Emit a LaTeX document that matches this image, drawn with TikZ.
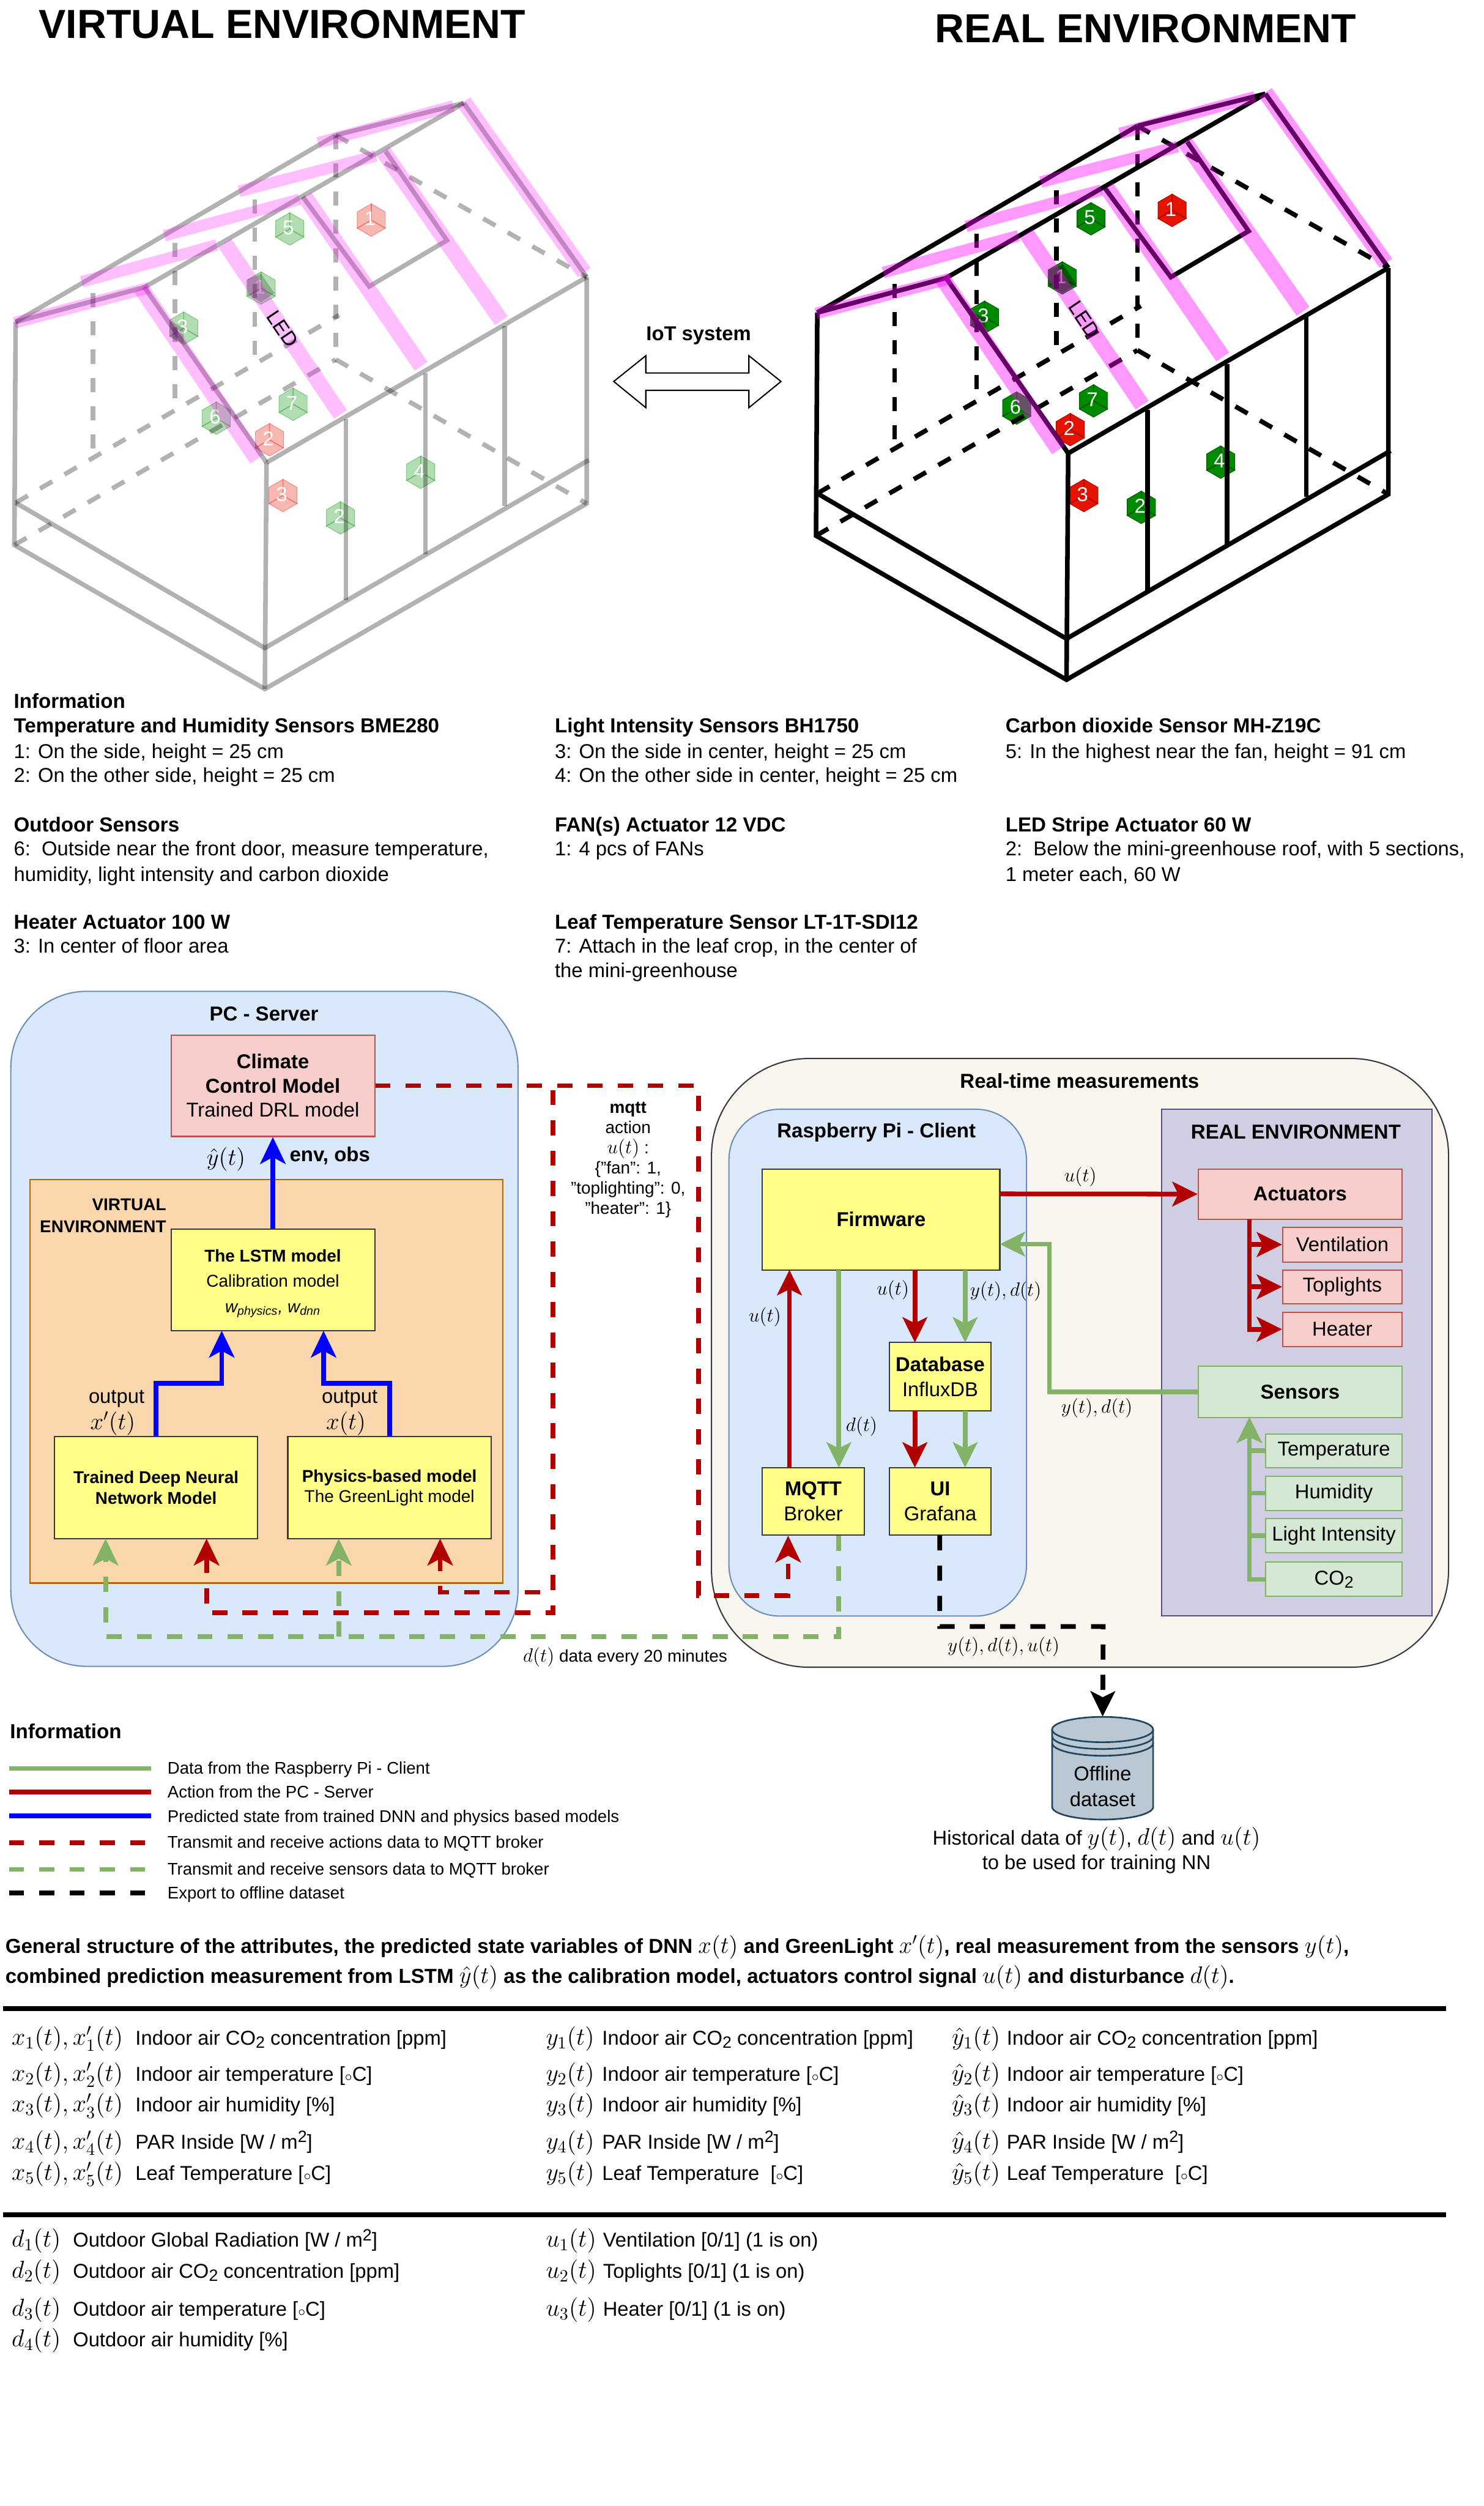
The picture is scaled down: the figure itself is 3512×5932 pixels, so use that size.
\documentclass[tikz,border=0pt]{standalone}
\usepackage{fix-cm}
\usepackage{amsmath}
\usepackage[no-math]{fontspec}
\setmainfont{Liberation Sans}
\usepackage{xcolor}
\usetikzlibrary{arrows.meta,shapes.geometric}

\definecolor{bluefill}{HTML}{DAE8FC}
\definecolor{blueline}{HTML}{6C8EBF}
\definecolor{redfill}{HTML}{F8CECC}
\definecolor{redline}{HTML}{B85450}
\definecolor{greenfill}{HTML}{D5E8D4}
\definecolor{greenline}{HTML}{82B366}
\definecolor{orangefill}{HTML}{FAD7AC}
\definecolor{orangeline}{HTML}{B46504}
\definecolor{yellowfill}{HTML}{FFFF88}
\definecolor{darkline}{HTML}{36393D}
\definecolor{creamfill}{HTML}{F9F7ED}
\definecolor{purplefill}{HTML}{D0CEE2}
\definecolor{purpleline}{HTML}{56517E}
\definecolor{dbfill}{HTML}{BAC8D3}
\definecolor{dbline}{HTML}{23445D}
\definecolor{actionred}{HTML}{B20000}
\definecolor{cubegreen}{HTML}{008A00}
\definecolor{cubegreenline}{HTML}{005700}
\definecolor{cubered}{HTML}{E51400}
\definecolor{ledpink}{RGB}{255,0,255}
\definecolor{pureblue}{RGB}{0,0,255}

\newcommand{\mth}[1]{{\fontsize{16.5}{18}\selectfont$#1$}}
\newcommand{\mtm}[1]{{\fontsize{16}{18}\selectfont$#1$}}
\newcommand{\mts}[1]{{\fontsize{13}{15}\selectfont$#1$}}
\newcommand{\degC}{[$\scriptstyle\circ$C]}
\newcommand{\subtwo}{\raisebox{-0.32ex}{\fontsize{11}{12}\selectfont 2}}
\newcommand{\suptwo}{\raisebox{0.62ex}{\fontsize{11}{12}\selectfont 2}}

\newcommand{\sensorcube}[5]{
  \node[#5] (#1) at (#2,#3) {};
  \draw[#5line] (#1.center) -- (#1.corner 1) (#1.center) -- (#1.corner 3) (#1.center) -- (#1.corner 5);
  \node[cubetext] (#1t) at (#2-3,#3-3) {#4};
}

\newcommand{\greenhouse}[3]{
  \fill[black,opacity=#3] (402,759) -- (435,777) -- (435,813) -- (402,795) -- cycle;
  \fill[black,opacity=#3] (586,661) -- (618,648) -- (650,694) -- (618,715) -- (586,697) -- cycle;
  \draw[#1] (37,762) -- (795,320);
  \draw[#1] (342,680) -- (1098,244);
  \draw[#1] (631,1095) -- (1389,656);
  \draw[#1] (37,762) -- (342,680);
  \draw[#1] (342,680) -- (631,1095);
  \draw[#1] (795,320) -- (1098,244);
  \draw[#1] (1098,244) -- (1389,656);
  \draw[#1] (37,762) -- (34,1290) -- (627,1631) -- (1389,1192) -- (1389,656);
  \draw[#1] (631,1095) -- (627,1631);
  \draw[#1] (37,1190) -- (627,1534) -- (1394,1089);
  \draw[#1] (819,992) -- (819,1420);
  \draw[#1] (1007,883) -- (1007,1312);
  \draw[#1] (1195,772) -- (1195,1198);
  \draw[#1] (717,466) -- (874,678) -- (1058,569) -- (913,358);
  \draw[#1,dash pattern=on 9.5pt off 9.5pt] (37,1190) -- (803,746);
  \draw[#1,dash pattern=on 9.5pt off 9.5pt] (34,1290) -- (795,851);
  \draw[#1,dash pattern=on 9.5pt off 9.5pt] (795,851) -- (1389,1192);
  \draw[#1,dash pattern=on 9.5pt off 9.5pt] (795,320) -- (795,851);
  \draw[#1,dash pattern=on 9.5pt off 9.5pt] (795,320) -- (1389,656);
  \draw[#1,dash pattern=on 9.5pt off 9.5pt] (220,694) -- (220,1084);
  \draw[#1,dash pattern=on 9.5pt off 9.5pt] (414,575) -- (414,970);
  \draw[#1,dash pattern=on 9.5pt off 9.5pt] (603,472) -- (603,862);
  \draw[#2,line width=10.5pt] (333,681) -- (608,1087);
  \draw[#2,line width=10.5pt] (532,575) -- (806,981);
  \draw[#2,line width=10.5pt] (722,466) -- (997,867);
  \draw[#2,line width=10.5pt] (907,358) -- (1187,759);
  \draw[#2,line width=10.5pt] (1098,241) -- (1383,645);
  \draw[#2,line width=7.7pt] (34,764) -- (353,681);
  \draw[#2,line width=7.7pt] (193,667) -- (513,580);
  \draw[#2,line width=7.7pt] (389,558) -- (709,472);
  \draw[#2,line width=7.7pt] (566,453) -- (890,369);
  \draw[#2,line width=7.7pt] (753,338) -- (1073,251);
}

\begin{document}
\begin{tikzpicture}[
  x=0.01cm, y=-0.01cm,
  lfont/.style={font=\fontsize{13.5}{16.4}\selectfont},
  mfont/.style={font=\fontsize{11.5}{14}\selectfont},
  lbl/.style={anchor=base west,inner sep=0pt,lfont},
  lblb/.style={anchor=base west,inner sep=0pt,font=\fontsize{13.65}{16.4}\selectfont\bfseries},
  lgd/.style={anchor=base west,inner sep=0pt,font=\fontsize{11.35}{14}\selectfont},
  ctr/.style={inner sep=0pt,align=center,lfont},
  ctrb/.style={inner sep=0pt,align=center,font=\fontsize{13.6}{16.4}\selectfont\bfseries},
  bigtitle/.style={inner sep=0pt,font=\fontsize{27.3}{30}\selectfont\bfseries},
  box/.style={draw,line width=0.85pt,inner sep=0pt,align=center,lfont},
  ybox/.style={box,fill=yellowfill,draw=darkline},
  rbox/.style={box,fill=redfill,draw=redline},
  gbox/.style={box,fill=greenfill,draw=greenline},
  cubetext/.style={inner sep=0pt,text=white,font=\fontsize{13.5}{15}\selectfont},
  cuberv/.style={regular polygon,regular polygon sides=6,shape border rotate=30,minimum size=0.77cm,inner sep=0pt},
  vgreen/.style={cuberv,fill=cubegreen,draw=cubegreen,fill opacity=0.3,draw opacity=0.4},
  vred/.style={cuberv,fill=cubered,draw=cubered,fill opacity=0.3,draw opacity=0.4},
  rgreen/.style={cuberv,fill=cubegreen,draw=cubegreenline},
  rred/.style={cuberv,fill=cubered,draw=actionred},
  vgreenline/.style={cubegreen,opacity=0.4,line width=0.7pt},
  vredline/.style={cubered,opacity=0.4,line width=0.7pt},
  rgreenline/.style={cubegreenline,line width=0.7pt},
  rredline/.style={actionred,line width=0.7pt},
  vframe/.style={black,opacity=0.3,line width=3.1pt},
  rframe/.style={black,line width=3.1pt},
  vstrip/.style={ledpink,opacity=0.25},
  rstrip/.style={ledpink,opacity=0.4},
  bigtip/.style={-{Stealth[length=18pt,width=17pt,inset=4.5pt]}},
  tip/.style={-{Stealth[length=17pt,width=16.5pt,inset=4pt]}},
  bluearrow/.style={bigtip,pureblue,line width=3.2pt},
  redarrow/.style={tip,actionred,line width=3.2pt},
  greenarrow/.style={tip,greenline,line width=3.2pt},
  reddash/.style={bigtip,actionred,line width=3.2pt,dash pattern=on 10.2pt off 10.2pt},
  greendash/.style={bigtip,greenline,line width=3.2pt,dash pattern=on 10.2pt off 10.2pt},
  blackdash/.style={tip,black,line width=3.2pt,dash pattern=on 10.2pt off 10.2pt}
]
  \useasboundingbox (0,0) rectangle (3512,5932);

  \node[bigtitle] (virtualtitle) at (668,58) {VIRTUAL ENVIRONMENT};
  \node[bigtitle] (realtitle) at (2712,68) {REAL ENVIRONMENT};

  \sensorcube{va}{686}{542}{5}{vgreen}
  \sensorcube{vb}{879}{521}{1}{vred}
  \sensorcube{vc}{618}{682}{1}{vgreen}
  \sensorcube{vd}{435}{777}{3}{vgreen}
  \sensorcube{ve}{694}{957}{7}{vgreen}
  \sensorcube{vf}{512}{990}{6}{vgreen}
  \sensorcube{vg}{638}{1041}{2}{vred}
  \sensorcube{vh}{670}{1173}{3}{vred}
  \sensorcube{vi}{996}{1118}{4}{vgreen}
  \sensorcube{vj}{806}{1226}{2}{vgreen}
  \greenhouse{vframe}{vstrip}{0.2}
  \node[inner sep=0pt,rotate=-56,lfont] (vled) at (669,778) {LED};

  \sensorcube{ra}{2583}{518}{5}{rgreen}
  \sensorcube{rb}{2775}{498}{1}{rred}
  \sensorcube{rc}{2515}{658}{1}{rgreen}
  \sensorcube{rd}{2331}{751}{3}{rgreen}
  \sensorcube{re}{2589}{949}{7}{rgreen}
  \sensorcube{rf}{2407}{966}{6}{rgreen}
  \sensorcube{rg}{2534}{1017}{2}{rred}
  \sensorcube{rh}{2566}{1173}{3}{rred}
  \sensorcube{ri}{2890}{1094}{4}{rgreen}
  \sensorcube{rj}{2702}{1201}{2}{rgreen}
  \begin{scope}[shift={(1898,-22)}]
    \greenhouse{rframe}{rstrip}{0.35}
    \node[inner sep=0pt,rotate=-56,lfont] (rled) at (669,778) {LED};
  \end{scope}

  \node[inner sep=0pt,font=\fontsize{13.5}{16}\selectfont\bfseries] (iot) at (1654,794) {IoT system};
  \draw[line width=0.85pt,fill=white] (1453,903) -- (1529,842) -- (1529,883) -- (1773,883) -- (1773,842) -- (1849,903) -- (1773,965) -- (1773,924) -- (1529,924) -- (1529,965) -- cycle;

  \node[lblb] (infohead) at (32,1677) {Information};
  \node[lblb] (infoa) at (32,1734) {Temperature and Humidity Sensors BME280};
  \node[lbl] (infob) at (32,1795) {1: On the side, height = 25 cm};
  \node[lbl] (infoc) at (32,1851) {2: On the other side, height = 25 cm};
  \node[lblb] (infod) at (32,1969) {Outdoor Sensors};
  \node[lbl] (infoe) at (32,2026) {6:\ \ Outside near the front door, measure temperature,};
  \node[lbl] (infof) at (32,2086) {humidity, light intensity and carbon dioxide};
  \node[lblb] (infog) at (32,2199) {Heater Actuator 100 W};
  \node[lbl] (infoh) at (32,2256) {3: In center of floor area};
  \node[lblb] (infoi) at (1313,1734) {Light Intensity Sensors BH1750};
  \node[lbl] (infoj) at (1313,1795) {3: On the side in center, height = 25 cm};
  \node[lbl] (infok) at (1313,1851) {4: On the other side in center, height = 25 cm};
  \node[lblb] (infol) at (1313,1969) {FAN(s) Actuator 12 VDC};
  \node[lbl] (infom) at (1313,2026) {1: 4 pcs of FANs};
  \node[lblb] (infon) at (1313,2199) {Leaf Temperature Sensor LT-1T-SDI12};
  \node[lbl] (infoo) at (1313,2256) {7: Attach in the leaf crop, in the center of};
  \node[lbl] (infop) at (1313,2313) {the mini-greenhouse};
  \node[lblb] (infoq) at (2380,1734) {Carbon dioxide Sensor MH-Z19C};
  \node[lbl] (infor) at (2380,1795) {5: In the highest near the fan, height = 91 cm};
  \node[lblb] (infos) at (2380,1969) {LED Stripe Actuator 60 W};
  \node[lbl] (infot) at (2380,2026) {2:\ \ Below the mini-greenhouse roof, with 5 sections,};
  \node[lbl] (infou) at (2380,2086) {1 meter each, 60 W};

  \node[box,fill=bluefill,draw=blueline,rounded corners=1.8cm,minimum width=12cm,minimum height=15.97cm] (pc) at (626,3145.5) {};
  \node[box,fill=orangefill,draw=orangeline,minimum width=11.19cm,minimum height=9.54cm] (virt) at (630.5,3270) {};
  \node[box,fill=creamfill,draw=darkline,rounded corners=2.3cm,minimum width=17.44cm,minimum height=14.4cm] (rt) at (2557,3226) {};
  \node[box,fill=bluefill,draw=blueline,rounded corners=1.2cm,minimum width=7.04cm,minimum height=11.99cm] (pi) at (2078,3225.5) {};
  \node[box,fill=purplefill,draw=purpleline,minimum width=6.4cm,minimum height=11.99cm] (env) at (3070,3225.5) {};

  \node[ctrb] (pctitle) at (625,2400) {PC - Server};
  \node[ctrb] (rttitle) at (2556,2559) {Real-time measurements};
  \node[ctrb] (pititle) at (2075,2680) {Raspberry Pi - Client};
  \node[ctrb] (envtitle) at (3068,2680) {REAL ENVIRONMENT};
  \node[inner sep=0pt,align=right,anchor=east,font=\fontsize{11.5}{14.7}\selectfont\bfseries] (virttitle) at (394,2878) {VIRTUAL\\ENVIRONMENT};

  \node[rbox,minimum width=4.82cm,minimum height=2.4cm,font=\fontsize{13.5}{16.2}\selectfont] (climate) at (646,2570) {\textbf{Climate}\\\textbf{Control Model}\\Trained DRL model};
  \node[ybox,minimum width=4.82cm,minimum height=2.41cm,font=\fontsize{11.5}{17}\selectfont] (lstm) at (646,3029.5) {\rule{0pt}{13.5pt}\textbf{The LSTM model}\\Calibration model\\\textit{w\textsubscript{physics}, w\textsubscript{dnn}}};
  \node[ybox,minimum width=4.81cm,minimum height=2.41cm,font=\fontsize{11.5}{13.8}\selectfont] (dnn) at (369.5,3521.5) {\textbf{Trained Deep Neural}\\\textbf{Network Model}};
  \node[ybox,minimum width=4.81cm,minimum height=2.41cm,font=\fontsize{11.5}{13.8}\selectfont] (phys) at (922,3521.5) {\textbf{Physics-based model}\\The GreenLight model};

  \node[ybox,minimum width=5.62cm,minimum height=2.39cm] (fw) at (2086,2886.5) {\textbf{Firmware}};
  \node[ybox,minimum width=2.4cm,minimum height=1.61cm,font=\fontsize{13.5}{17}\selectfont] (db) at (2226,3258.5) {\textbf{Database}\\InfluxDB};
  \node[ybox,minimum width=2.4cm,minimum height=1.6cm,font=\fontsize{13.5}{17}\selectfont] (ui) at (2226,3554) {\textbf{UI}\\Grafana};
  \node[ybox,minimum width=2.41cm,minimum height=1.6cm,font=\fontsize{13.5}{17}\selectfont] (mqtt) at (1925.5,3554) {\textbf{MQTT}\\Broker};

  \node[rbox,minimum width=4.82cm,minimum height=1.19cm] (act) at (3078,2826.5) {\textbf{Actuators}};
  \node[rbox,minimum width=2.82cm,minimum height=0.82cm] (vent) at (3178,2946) {Ventilation};
  \node[rbox,minimum width=2.82cm,minimum height=0.8cm] (toplight) at (3178,3046) {Toplights};
  \node[rbox,minimum width=2.82cm,minimum height=0.81cm] (heat) at (3178,3146.5) {Heater};
  \node[gbox,minimum width=4.82cm,minimum height=1.21cm] (sens) at (3078,3294.5) {\textbf{Sensors}};
  \node[gbox,minimum width=3.22cm,minimum height=0.8cm] (temp) at (3158,3434) {Temperature};
  \node[gbox,minimum width=3.22cm,minimum height=0.81cm] (hum) at (3158,3534.5) {Humidity};
  \node[gbox,minimum width=3.22cm,minimum height=0.81cm] (light) at (3158,3634.5) {Light Intensity};
  \node[gbox,minimum width=3.22cm,minimum height=0.81cm] (co) at (3158,3738.5) {CO\subtwo};

  \coordinate (lstmL) at (525,3150);
  \coordinate (lstmR) at (766,3150);
  \draw[bluearrow] (lstm.north) -- (climate.south);
  \draw[bluearrow] (dnn.north) -- ++(0,-125) -| (lstmL);
  \draw[bluearrow] (phys.north) -- ++(0,-125) -| (lstmR);

  \coordinate (dnnR) at (489,3642);
  \coordinate (physR) at (1042,3642);
  \coordinate (dnnG) at (250,3642);
  \coordinate (physG) at (802,3642);
  \coordinate (redA) at (1654,3777);
  \coordinate (redB) at (1309,3818);
  \coordinate (redC) at (1309,3769);
  \coordinate (mqttIn) at (1866,3635);
  \coordinate (mqttOut) at (1986,3635);
  \coordinate (dtCorner) at (250,3874);
  \coordinate (dtBranch) at (802,3874);
  \draw[reddash] (climate.east) -| (redA) -| (mqttIn);
  \draw[reddash] (climate.east) -| (redB) -| (dnnR);
  \draw[reddash] (climate.east) -| (redC) -| (physR);
  \draw[greendash] (mqttOut) |- (dtCorner) -- (dnnG);
  \draw[greendash] (dtBranch) -- (physG);

  \coordinate (fwOut) at (2367,2826);
  \coordinate (fwIn) at (2367,2945);
  \coordinate (fwA) at (1869,3006);
  \coordinate (fwB) at (1986,3006);
  \coordinate (fwC) at (2166,3006);
  \coordinate (fwD) at (2285,3006);
  \coordinate (mqttA) at (1869,3474);
  \coordinate (mqttB) at (1986,3474);
  \coordinate (dbC) at (2166,3178);
  \coordinate (dbD) at (2285,3178);
  \coordinate (dbE) at (2166,3339);
  \coordinate (dbF) at (2285,3339);
  \coordinate (uiC) at (2166,3474);
  \coordinate (uiD) at (2285,3474);
  \coordinate (actOut) at (2958,2886);
  \coordinate (sensIn) at (2958,3355);
  \draw[redarrow] (fwOut) -- (act.west);
  \draw[greenarrow] (sens.west) -- ++(-351,0) |- (fwIn);
  \draw[redarrow] (mqttA) -- (fwA);
  \draw[greenarrow] (fwB) -- (mqttB);
  \draw[redarrow] (fwC) -- (dbC);
  \draw[greenarrow] (fwD) -- (dbD);
  \draw[redarrow] (dbE) -- (uiC);
  \draw[greenarrow] (dbF) -- (uiD);
  \draw[redarrow] (actOut) |- (vent.west);
  \draw[redarrow] (actOut) |- (toplight.west);
  \draw[redarrow] (actOut) |- (heat.west);
  \draw[greenarrow] (temp.west) -| (sensIn);
  \draw[greenarrow] (hum.west) -| (sensIn);
  \draw[greenarrow] (light.west) -| (sensIn);
  \draw[greenarrow] (co.west) -| (sensIn);

  \node[inner sep=0pt,font=\fontsize{13.5}{16}\selectfont] (yhatlab) at (535,2744) {\mtm{\hat{y}(t)}};
  \node[ctrb] (envobs) at (781,2736) {env, obs};
  \node[ctr] (outa) at (276,3311) {output};
  \node[ctr] (xplab) at (267,3370) {\mtm{x'(t)}};
  \node[ctr] (outb) at (828,3311) {output};
  \node[ctr] (xlab) at (819,3370) {\mtm{x(t)}};
  \node[inner sep=0pt,align=center,font=\fontsize{11.5}{13.6}\selectfont] (mqttlab) at (1487,2746) {\textbf{mqtt}\\action\\\mts{u(t)} :\\\{"fan": 1,\\"toplighting": 0,\\"heater": 1\}};
  \node[inner sep=0pt,mfont] (dtlab) at (1480,3923) {\mts{d(t)} data every 20 minutes};
  \node[inner sep=0pt] (ulaba) at (2558,2786) {\mts{u(t)}};
  \node[inner sep=0pt] (ydlaba) at (2597,3333) {\mts{y(t), d(t)}};
  \node[inner sep=0pt] (ulabb) at (1811,3118) {\mts{u(t)}};
  \node[inner sep=0pt] (dlab) at (2040,3377) {\mts{d(t)}};
  \node[inner sep=0pt] (ulabc) at (2114,3054) {\mts{u(t)}};
  \node[inner sep=0pt] (ydlabb) at (2381,3057) {\mts{y(t), d(t)}};
  \node[inner sep=0pt] (ydulab) at (2376,3898) {\mts{y(t), d(t), u(t)}};

  \path[fill=dbfill,draw=dbline,line width=1.1pt] (2491,4094) -- (2491,4277) arc[start angle=180,end angle=360,x radius=1.195cm,y radius=0.3cm] -- (2730,4094) arc[start angle=0,end angle=180,x radius=1.195cm,y radius=0.3cm] -- cycle;
  \draw[dbline,line width=1.1pt] (2491,4094) arc[start angle=180,end angle=360,x radius=1.195cm,y radius=0.3cm];
  \draw[dbline,line width=1.1pt] (2491,4110) arc[start angle=180,end angle=360,x radius=1.195cm,y radius=0.3cm];
  \draw[dbline,line width=1.1pt] (2491,4126) arc[start angle=180,end angle=360,x radius=1.195cm,y radius=0.3cm];
  \node[inner sep=0pt,align=center,minimum width=2.39cm,minimum height=2.43cm,font=\fontsize{13.5}{17.2}\selectfont] (offline) at (2610.5,4185.5) {\\[17pt]Offline\\dataset};
  \coordinate (uiOut) at (2225,3634);
  \draw[blackdash] (uiOut) |- (2612,3850) -- (offline.north);
  \node[ctr] (hista) at (2596,4353) {Historical data of \mtm{y(t)}, \mtm{d(t)} and \mtm{u(t)}};
  \node[ctr] (histb) at (2596,4413) {to be used for training NN};

  \node[lblb] (lgdhead) at (23,4115) {Information};
  \coordinate (lga) at (21,4186);
  \coordinate (lgb) at (358,4186);
  \coordinate (lgc) at (21,4242);
  \coordinate (lgd) at (358,4242);
  \coordinate (lge) at (21,4298);
  \coordinate (lgf) at (358,4298);
  \coordinate (lgg) at (21,4362);
  \coordinate (lgh) at (358,4362);
  \coordinate (lgi) at (21,4425);
  \coordinate (lgj) at (358,4425);
  \coordinate (lgk) at (21,4481);
  \coordinate (lgl) at (358,4481);
  \draw[greenline,line width=3.2pt] (lga) -- (lgb);
  \draw[actionred,line width=3.2pt] (lgc) -- (lgd);
  \draw[pureblue,line width=3.2pt] (lge) -- (lgf);
  \draw[actionred,line width=3.2pt,dash pattern=on 10.2pt off 10.2pt] (lgg) -- (lgh);
  \draw[greenline,line width=3.2pt,dash pattern=on 10.2pt off 10.2pt] (lgi) -- (lgj);
  \draw[black,line width=3.2pt,dash pattern=on 10.2pt off 10.2pt] (lgk) -- (lgl);
  \node[lgd] (lta) at (396,4199) {Data from the Raspberry Pi - Client};
  \node[lgd] (ltb) at (396,4255) {Action from the PC - Server};
  \node[lgd] (ltc) at (396,4313) {Predicted state from trained DNN and physics based models};
  \node[lgd] (ltd) at (396,4375) {Transmit and receive actions data to MQTT broker};
  \node[lgd] (lte) at (396,4438) {Transmit and receive sensors data to MQTT broker};
  \node[lgd] (ltf) at (396,4494) {Export to offline dataset};

  \node[lblb] (para) at (12,4624) {General structure of the attributes, the predicted state variables of DNN \mtm{x(t)} and GreenLight \mtm{x'(t)}, real measurement from the sensors \mtm{y(t)},};
  \node[lblb] (parb) at (12,4695) {combined prediction measurement from LSTM \mtm{\hat{y}(t)} as the calibration model, actuators control signal \mtm{u(t)} and disturbance \mtm{d(t)}.};

  \coordinate (rulea) at (7,4754);
  \coordinate (ruleb) at (3423,4754);
  \coordinate (rulec) at (7,5242);
  \coordinate (ruled) at (3423,5242);
  \draw[line width=3.3pt] (rulea) -- (ruleb);
  \draw[line width=3.3pt] (rulec) -- (ruled);

  \node[lbl] (xa) at (27,4840) {\mth{x_1(t), x'_1(t)}};
  \node[lbl] (xb) at (27,4926) {\mth{x_2(t), x'_2(t)}};
  \node[lbl] (xc) at (27,4999) {\mth{x_3(t), x'_3(t)}};
  \node[lbl] (xd) at (27,5087) {\mth{x_4(t), x'_4(t)}};
  \node[lbl] (xe) at (27,5161) {\mth{x_5(t), x'_5(t)}};
  \node[lbl] (xta) at (320,4840) {Indoor air CO\subtwo\ concentration [ppm]};
  \node[lbl] (xtb) at (320,4926) {Indoor air temperature \degC};
  \node[lbl] (xtc) at (320,4999) {Indoor air humidity [\%]};
  \node[lbl] (xtd) at (320,5087) {PAR Inside [W / m\suptwo]};
  \node[lbl] (xte) at (320,5161) {Leaf Temperature \degC};
  \node[lbl] (ya) at (1292,4840) {\mth{y_1(t)}};
  \node[lbl] (yb) at (1292,4926) {\mth{y_2(t)}};
  \node[lbl] (yc) at (1292,4999) {\mth{y_3(t)}};
  \node[lbl] (yd) at (1292,5087) {\mth{y_4(t)}};
  \node[lbl] (ye) at (1292,5161) {\mth{y_5(t)}};
  \node[lbl] (yta) at (1425,4840) {Indoor air CO\subtwo\ concentration [ppm]};
  \node[lbl] (ytb) at (1425,4926) {Indoor air temperature \degC};
  \node[lbl] (ytc) at (1425,4999) {Indoor air humidity [\%]};
  \node[lbl] (ytd) at (1425,5087) {PAR Inside [W / m\suptwo]};
  \node[lbl] (yte) at (1425,5161) {Leaf Temperature \ \degC};
  \node[lbl] (ha) at (2253,4840) {\mth{\hat{y}_1(t)}};
  \node[lbl] (hb) at (2253,4926) {\mth{\hat{y}_2(t)}};
  \node[lbl] (hc) at (2253,4999) {\mth{\hat{y}_3(t)}};
  \node[lbl] (hd) at (2253,5087) {\mth{\hat{y}_4(t)}};
  \node[lbl] (he) at (2253,5161) {\mth{\hat{y}_5(t)}};
  \node[lbl] (hta) at (2383,4840) {Indoor air CO\subtwo\ concentration [ppm]};
  \node[lbl] (htb) at (2383,4926) {Indoor air temperature \degC};
  \node[lbl] (htc) at (2383,4999) {Indoor air humidity [\%]};
  \node[lbl] (htd) at (2383,5087) {PAR Inside [W / m\suptwo]};
  \node[lbl] (hte) at (2383,5161) {Leaf Temperature \ \degC};

  \node[lbl] (da) at (27,5319) {\mth{d_1(t)}};
  \node[lbl] (db1) at (27,5392) {\mth{d_2(t)}};
  \node[lbl] (dc) at (27,5482) {\mth{d_3(t)}};
  \node[lbl] (dd) at (27,5554) {\mth{d_4(t)}};
  \node[lbl] (dta) at (172,5319) {Outdoor Global Radiation [W / m\suptwo]};
  \node[lbl] (dtb) at (172,5392) {Outdoor air CO\subtwo\ concentration [ppm]};
  \node[lbl] (dtc) at (172,5482) {Outdoor air temperature \degC};
  \node[lbl] (dtd) at (172,5554) {Outdoor air humidity [\%]};
  \node[lbl] (ua) at (1292,5319) {\mth{u_1(t)}};
  \node[lbl] (ub) at (1292,5392) {\mth{u_2(t)}};
  \node[lbl] (uc) at (1292,5482) {\mth{u_3(t)}};
  \node[lbl] (uta) at (1427,5319) {Ventilation [0/1] (1 is on)};
  \node[lbl] (utb) at (1427,5392) {Toplights [0/1] (1 is on)};
  \node[lbl] (utc) at (1427,5482) {Heater [0/1] (1 is on)};
\end{tikzpicture}
\end{document}
